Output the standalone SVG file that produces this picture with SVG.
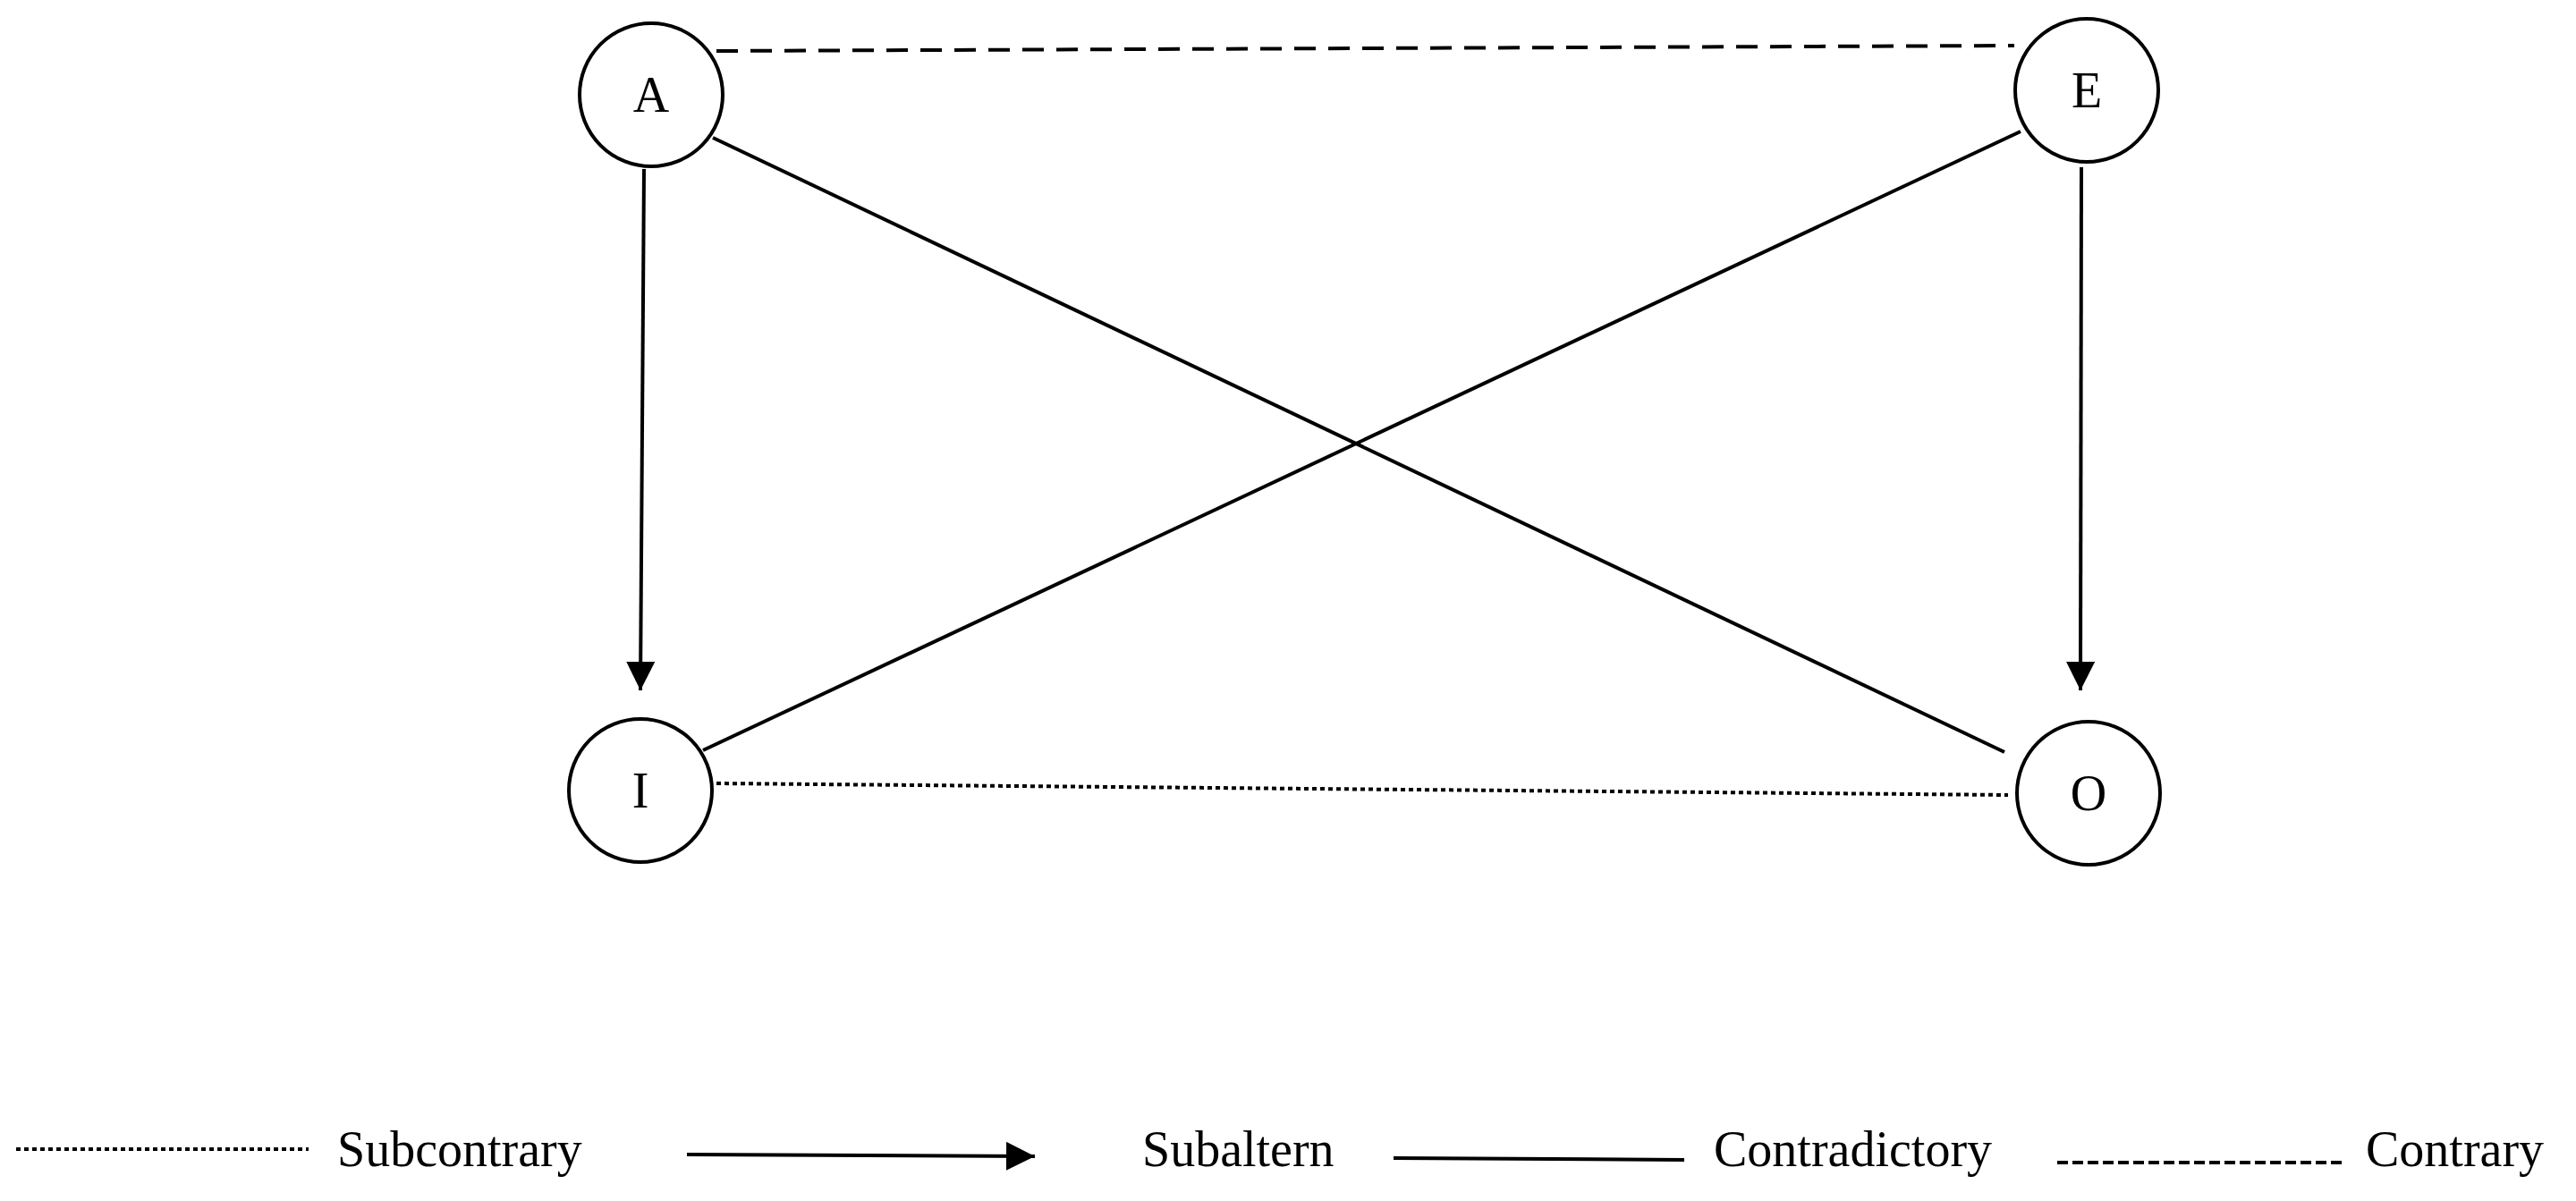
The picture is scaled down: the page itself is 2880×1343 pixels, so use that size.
<svg xmlns="http://www.w3.org/2000/svg" width="2880" height="1343" viewBox="0 0 2880 1343">
<style>
.n{fill:#fff;stroke:#000;stroke-width:4}
.t{font-family:"Liberation Serif",serif;font-size:56px;fill:#000}
.l{stroke:#000;stroke-width:4;fill:none}
</style>
<defs><marker id="ah" viewBox="0 0 10 10" refX="10" refY="5" markerWidth="9" markerHeight="9" markerUnits="userSpaceOnUse" orient="auto"><path d="M0,0L10,5L0,10z"/></marker>
<marker id="ah2" viewBox="0 0 10 10" refX="10" refY="5" markerWidth="32" markerHeight="32" markerUnits="userSpaceOnUse" orient="auto"><path d="M0,0L10,5L0,10z"/></marker></defs>
<rect width="2880" height="1343" fill="#fff"/>
<g id="connectors">
<line class="l" x1="801" y1="57" x2="2252" y2="51" stroke-dasharray="24,14" stroke-width="5"/>
<line class="l" x1="720" y1="189" x2="716" y2="772" marker-end="url(#ah2)"/>
<line class="l" x1="2327" y1="187" x2="2326" y2="772" marker-end="url(#ah2)"/>
<line class="l" x1="797" y1="154" x2="2241" y2="841"/>
<line class="l" x1="2259" y1="147" x2="786" y2="839"/>
<line class="l" x1="801" y1="876" x2="2245" y2="889" stroke-dasharray="5,4" stroke-width="5"/>
</g>
<g id="A"><circle class="n" cx="728" cy="106" r="80"/><text class="t" x="728" y="125" text-anchor="middle">A</text></g>
<g id="E"><circle class="n" cx="2333" cy="101" r="80"/><text class="t" x="2333" y="120" text-anchor="middle">E</text></g>
<g id="I"><circle class="n" cx="716" cy="884" r="80"/><text class="t" x="716" y="903" text-anchor="middle">I</text></g>
<g id="O"><circle class="n" cx="2335" cy="887" r="80"/><text class="t" x="2335" y="906" text-anchor="middle">O</text></g>
<g id="legend">
<line class="l" x1="18" y1="1285" x2="345" y2="1285" stroke-dasharray="5,4" stroke-width="5"/>
<text class="t" x="377" y="1304">Subcontrary</text>
<line class="l" x1="768" y1="1291" x2="1157" y2="1293" stroke-width="2.5" marker-end="url(#ah2)"/>
<text class="t" x="1277" y="1304">Subaltern</text>
<line class="l" x1="1558" y1="1295" x2="1883" y2="1297"/>
<text class="t" x="1916" y="1304">Contradictory</text>
<line class="l" x1="2300" y1="1300" x2="2623" y2="1300" stroke-dasharray="12,5" stroke-width="3"/>
<text class="t" x="2645" y="1304">Contrary</text>
</g>
</svg>
